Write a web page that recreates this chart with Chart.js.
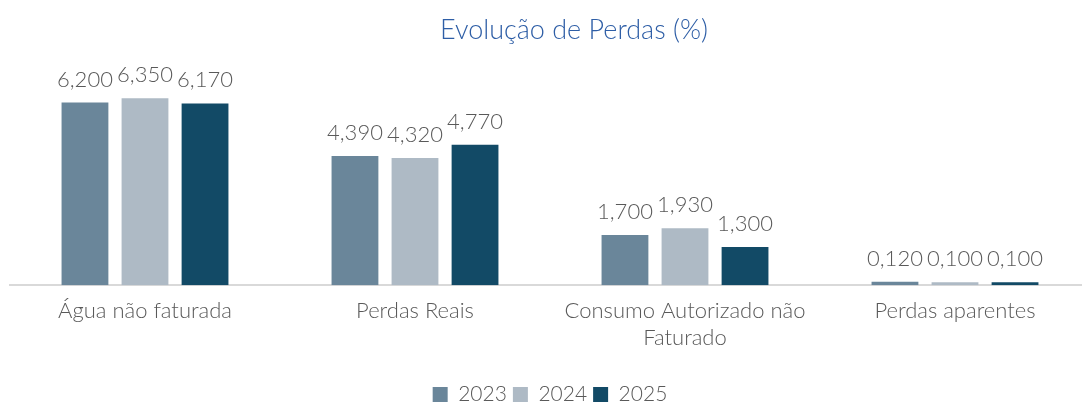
<!DOCTYPE html>
<html>
<head>
<meta charset="utf-8">
<script src="https://cdn.jsdelivr.net/npm/chart.js@4.4.1/dist/chart.umd.min.js"></script>
<style>
  html, body { margin: 0; padding: 0; background: #fff; overflow: hidden; }
  #wrap { width: 1090px; height: 403px; }
</style>
</head>
<body>
<div id="wrap"><canvas id="perdasChart"></canvas></div>
<script>
const categories = ["Água não faturada", "Perdas Reais", ["Consumo Autorizado não", "Faturado"], "Perdas aparentes"];
const years = ["2023", "2024", "2025"];
const values2023 = [6.200, 4.390, 1.700, 0.120];
const values2024 = [6.350, 4.320, 1.930, 0.100];
const values2025 = [6.170, 4.770, 1.300, 0.100];
const colors = ["#6a869a", "#aebac5", "#124a66"];

const textGray = "#595959";
const fontFamily = "Lato, 'Open Sans', sans-serif";

function fmt(v) {
  return v.toFixed(3).replace(".", ",");
}

// value labels over each bar + title
const labelPlugin = {
  id: "barLabels",
  afterDatasetsDraw(chart) {
    const ctx = chart.ctx;
    ctx.save();
    ctx.font = "300 22px " + fontFamily;
    ctx.fillStyle = textGray;
    ctx.textAlign = "center";
    ctx.textBaseline = "alphabetic";
    chart.data.datasets.forEach((ds, i) => {
      const meta = chart.getDatasetMeta(i);
      meta.data.forEach((bar, j) => {
        ctx.fillText(fmt(ds.data[j]), bar.x, bar.y - 16);
      });
    });
    ctx.restore();
  },
  afterDraw(chart) {
    const ctx = chart.ctx;
    ctx.save();
    ctx.font = "300 27px " + fontFamily;
    ctx.fillStyle = "#2e5ea6";
    ctx.textAlign = "center";
    ctx.textBaseline = "middle";
    ctx.fillText("Evolução de Perdas (%)", 574, 30);
    ctx.restore();
  }
};

new Chart(document.getElementById("perdasChart"), {
  type: "bar",
  data: {
    labels: categories,
    datasets: [
      { label: years[0], data: values2023, backgroundColor: colors[0] },
      { label: years[1], data: values2024, backgroundColor: colors[1] },
      { label: years[2], data: values2025, backgroundColor: colors[2] }
    ]
  },
  options: {
    responsive: true,
    maintainAspectRatio: false,
    animation: false,
    categoryPercentage: 0.667,
    barPercentage: 0.78,
    layout: { padding: { top: 79, left: 10, right: 0, bottom: -12 } },
    plugins: {
      title: { display: false },
      tooltip: { enabled: false },
      legend: {
        position: "bottom",
        labels: {
          boxWidth: 15,
          boxHeight: 15,
          padding: 6,
          color: textGray,
          font: { family: fontFamily, size: 21, weight: "300" }
        }
      }
    },
    scales: {
      x: {
        grid: { display: false, drawTicks: false },
        border: { color: "#d9d9d9", width: 2 },
        ticks: {
          color: textGray,
          padding: 13,
          maxRotation: 0,
          autoSkip: false,
          font: { family: fontFamily, size: 22, weight: "300", lineHeight: 1.2 }
        },
        afterFit(scale) { scale.height += 14; }
      },
      y: {
        display: false,
        min: 0,
        max: 7
      }
    }
  },
  plugins: [labelPlugin]
});
</script>
</body>
</html>
